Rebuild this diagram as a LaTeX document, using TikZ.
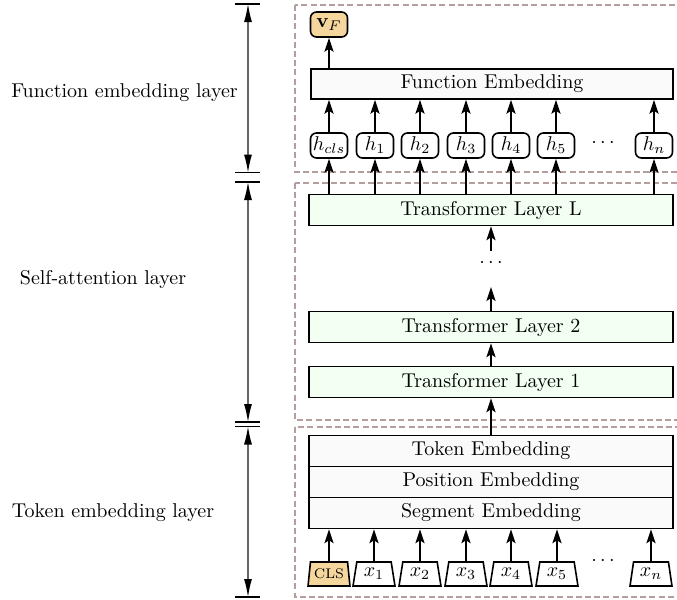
\documentclass[tikz,border=0pt]{standalone}
\usetikzlibrary{arrows.meta,shapes.geometric}
\definecolor{dashc}{HTML}{B59E9E}
\definecolor{orangef}{HTML}{F5D79E}
\definecolor{greenf}{HTML}{F2FFF2}
\definecolor{greyf}{HTML}{FAFAFA}
\begin{document}
\begin{tikzpicture}[x=0.5pt,y=-0.5pt,
  conn/.style={-{Stealth[length=7pt,width=4.6pt,inset=1.5pt]}, line width=0.75pt},
  dimarrow/.style={{Latex[length=9pt,width=4pt,black]}-{Latex[length=9pt,width=4pt,black]}, draw=black!60, line width=0.6pt},
  barline/.style={line width=0.75pt},
  grp/.style={draw=dashc, dash pattern=on 3pt off 1.6pt, line width=0.6pt},
  wide/.style={draw, line width=0.8pt, minimum width=182pt, minimum height=15.5pt, inner sep=0pt},
  hbox/.style={draw, rounded corners=3pt, line width=0.8pt, minimum width=18.5pt, minimum height=12.5pt, inner sep=0pt},
  tok/.style={draw, trapezium, trapezium left angle=79, trapezium right angle=79, trapezium stretches=true, minimum width=21pt, minimum height=12pt, inner sep=0pt, line width=0.8pt},
  side/.style={inner sep=0pt}]
\useasboundingbox (0,0) rectangle (677,600);
\clip (0,0) rectangle (677,600);

% group boxes
\draw[grp] (295,5) rectangle (700,172);
\draw[grp] (295,183) rectangle (700,420);
\draw[grp] (295,427) rectangle (700,597);

% side labels
\node[side] (l1) at (124.5,93) {Function embedding layer};
\node[side] (l2) at (103,279) {Self-attention layer};
\node[side] (l3) at (113,513) {Token embedding layer};

% dimension marks
\coordinate (b0) at (248,4);
\coordinate (b1) at (248,172.5);
\coordinate (b2) at (248,182);
\coordinate (b3) at (248,422);
\coordinate (b4) at (248,426.5);
\coordinate (b5) at (248,597);
\foreach \b in {b0,b1,b2,b3,b4,b5}{
  \draw[barline] (\b) ++(-12.5,0) -- ++(25,0);
}
\draw[dimarrow] (b0) -- (b1);
\draw[dimarrow] (b2) -- (b3);
\draw[dimarrow] (b4) -- (b5);

% function embedding layer
\node[hbox, fill=orangef] (vf) at (329,24.5) {$\mathbf{v}_F$};
\node[wide, fill=greyf, minimum width=181pt, minimum height=15pt] (fe) at (492,84) {Function Embedding};
\node[hbox] (hc) at (329,145.5) {$h_{cls}$};
\node[hbox] (h1) at (375,145.5) {$h_1$};
\node[hbox] (h2) at (420,145.5) {$h_2$};
\node[hbox] (h3) at (466,145.5) {$h_3$};
\node[hbox] (h4) at (511,145.5) {$h_4$};
\node[hbox] (h5) at (556,145.5) {$h_5$};
\node (hd) at (603,143) {$\cdots$};
\node[hbox] (hn) at (654,145.5) {$h_n$};

% transformer layers
\node[wide, fill=greenf] (tl) at (491,210) {Transformer Layer L};
\node (dots) at (491,263) {$\cdots$};
\coordinate (d1) at (491,251);
\coordinate (d2) at (491,287);
\node[wide, fill=greenf] (t2) at (491,327) {Transformer Layer 2};
\node[wide, fill=greenf] (t1) at (491,382) {Transformer Layer 1};

% token embedding
\node[wide, fill=greyf] (te) at (491,451) {Token Embedding};
\node[wide, fill=greyf] (pe) at (491,482) {Position Embedding};
\node[wide, fill=greyf] (se) at (491,513) {Segment Embedding};

\node[tok, fill=orangef] (xc) at (329,574) {\scriptsize CLS};
\node[tok] (x1) at (374,574) {$x_1$};
\node[tok] (x2) at (420,574) {$x_2$};
\node[tok] (x3) at (466,574) {$x_3$};
\node[tok] (x4) at (511,574) {$x_4$};
\node[tok] (x5) at (557,574) {$x_5$};
\node (xd) at (603,561) {$\cdots$};
\node[tok] (xn) at (651,574) {$x_n$};

% connectors
\draw[conn] (fe.north -| vf.south) -- (vf.south);
\foreach \h in {hc,h1,h2,h3,h4,h5,hn}{
  \draw[conn] (\h.north) -- (\h.north |- fe.south);
  \draw[conn] (\h.south |- tl.north) -- (\h.south);
}
\draw[conn] (d1) -- (tl.south);
\draw[conn] (t2.north) -- (d2);
\draw[conn] (t1.north) -- (t2.south);
\draw[conn] (te.north) -- (t1.south);
\foreach \x in {xc,x1,x2,x3,x4,x5,xn}{
  \draw[conn] (\x.north) -- (\x.north |- se.south);
}
\end{tikzpicture}
\end{document}
